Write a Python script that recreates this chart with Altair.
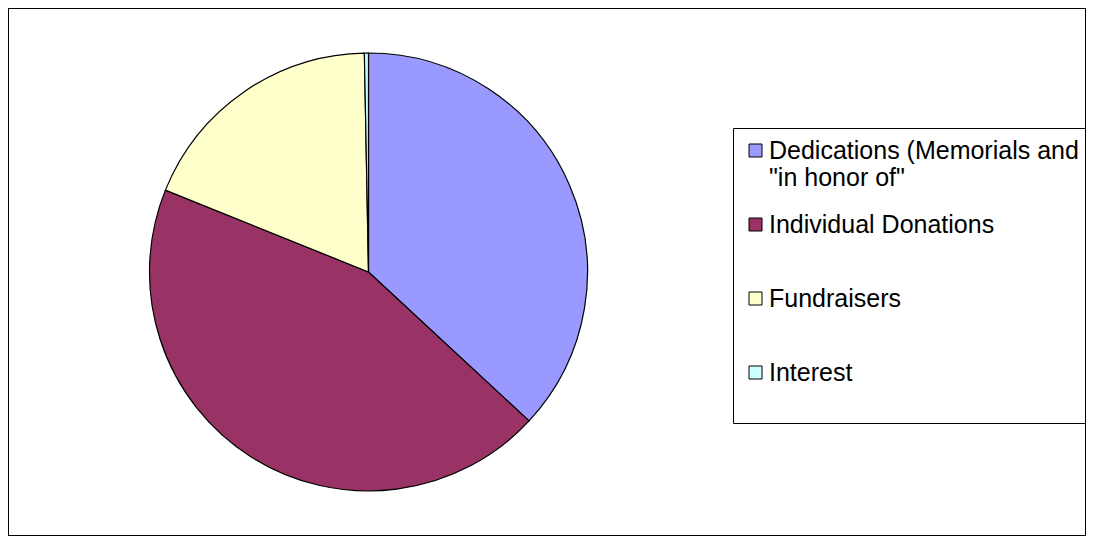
import altair as alt
import pandas as pd

categories = ["Dedications (Memorials and|\"in honor of\"", "Individual Donations|", "Fundraisers|", "Interest|"]
values = [36.9, 44.2, 18.6, 0.3]
colors = ["#9999FF", "#993366", "#FFFFCC", "#CCFFFF"]

df = pd.DataFrame({"category": categories, "value": values, "order": list(range(len(categories)))})

pie = alt.Chart(df).mark_arc(stroke="black", strokeWidth=1.2, outerRadius=219).encode(
    theta=alt.Theta("value:Q", stack=True),
    order=alt.Order("order:Q"),
    color=alt.Color(
        "category:N",
        sort=categories,
        scale=alt.Scale(domain=categories, range=colors),
        legend=alt.Legend(
            title=None,
            orient="none",
            legendX=725,
            legendY=120,
            padding=10,
            strokeColor="black",
            symbolType="square",
            symbolSize=169,
            symbolStrokeColor="black",
            symbolStrokeWidth=1,
            symbolOpacity=1,
            labelFont="Liberation Sans",
            labelFontSize=25,
            labelColor="black",
            labelLimit=0,
            labelOffset=1,
            labelBaseline="middle",
            labelExpr="split(datum.label, '|')",
            rowPadding=21,
        ),
    ),
    x=alt.value(360.5),
    y=alt.value(264),
)

chart = pie.properties(
    width=1078, height=528, padding=0, autosize=alt.AutoSizeParams(type="none")
).configure_view(stroke="black", strokeWidth=2)

chart.save("out.html", embed_options={"renderer": "svg", "actions": False})
